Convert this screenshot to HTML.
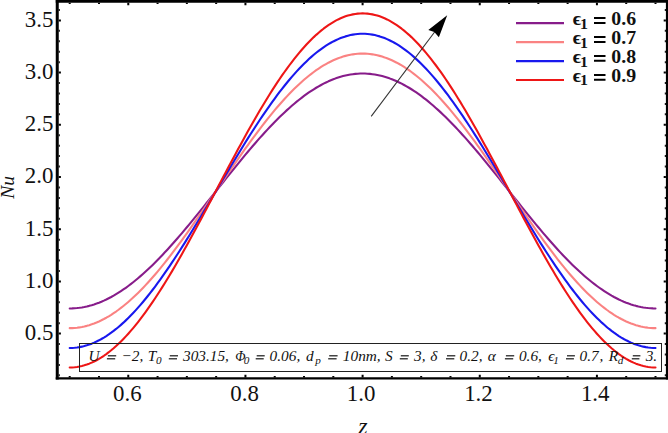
<!DOCTYPE html>
<html><head><meta charset="utf-8"><style>
html,body{margin:0;padding:0;background:#fff;width:668px;height:433px;overflow:hidden}
svg{display:block}
text{font-family:"Liberation Serif",serif;fill:#111;font-kerning:none;white-space:pre}
</style></head><body>
<svg width="668" height="433" viewBox="0 0 668 433">
<path d="M69.70,308.43 L72.14,308.39 L74.58,308.27 L77.02,308.06 L79.46,307.78 L81.90,307.42 L84.35,306.98 L86.79,306.46 L89.23,305.86 L91.67,305.18 L94.11,304.42 L96.55,303.59 L98.99,302.68 L101.43,301.69 L103.87,300.63 L106.31,299.49 L108.75,298.27 L111.19,296.99 L113.63,295.63 L116.08,294.19 L118.52,292.69 L120.96,291.12 L123.40,289.48 L125.84,287.77 L128.28,286.00 L130.72,284.16 L133.16,282.25 L135.60,280.29 L138.04,278.26 L140.48,276.17 L142.93,274.03 L145.37,271.82 L147.81,269.57 L150.25,267.25 L152.69,264.89 L155.13,262.48 L157.57,260.01 L160.01,257.50 L162.45,254.94 L164.89,252.34 L167.33,249.70 L169.77,247.02 L172.22,244.30 L174.66,241.54 L177.10,238.75 L179.54,235.92 L181.98,233.07 L184.42,230.18 L186.86,227.27 L189.30,224.33 L191.74,221.37 L194.18,218.39 L196.62,215.40 L199.06,212.38 L201.50,209.35 L203.95,206.31 L206.39,203.25 L208.83,200.19 L211.27,197.12 L213.71,194.05 L216.15,190.98 L218.59,187.90 L221.03,184.83 L223.47,181.76 L225.91,178.70 L228.35,175.65 L230.80,172.60 L233.24,169.57 L235.68,166.56 L238.12,163.56 L240.56,160.58 L243.00,157.62 L245.44,154.68 L247.88,151.77 L250.32,148.89 L252.76,146.03 L255.20,143.21 L257.64,140.41 L260.08,137.66 L262.53,134.93 L264.97,132.25 L267.41,129.61 L269.85,127.01 L272.29,124.45 L274.73,121.94 L277.17,119.48 L279.61,117.06 L282.05,114.70 L284.49,112.39 L286.93,110.13 L289.38,107.93 L291.82,105.78 L294.26,103.69 L296.70,101.67 L299.14,99.70 L301.58,97.80 L304.02,95.96 L306.46,94.18 L308.90,92.47 L311.34,90.83 L313.78,89.26 L316.22,87.76 L318.67,86.33 L321.11,84.97 L323.55,83.68 L325.99,82.47 L328.43,81.33 L330.87,80.26 L333.31,79.27 L335.75,78.36 L338.19,77.53 L340.63,76.77 L343.07,76.09 L345.51,75.49 L347.95,74.97 L350.40,74.53 L352.84,74.17 L355.28,73.89 L357.72,73.69 L360.16,73.57 L362.60,73.53 L365.04,73.57 L367.48,73.69 L369.92,73.89 L372.36,74.17 L374.80,74.53 L377.24,74.97 L379.69,75.49 L382.13,76.09 L384.57,76.77 L387.01,77.53 L389.45,78.36 L391.89,79.27 L394.33,80.26 L396.77,81.33 L399.21,82.47 L401.65,83.68 L404.09,84.97 L406.53,86.33 L408.98,87.76 L411.42,89.26 L413.86,90.83 L416.30,92.47 L418.74,94.18 L421.18,95.96 L423.62,97.80 L426.06,99.70 L428.50,101.67 L430.94,103.69 L433.38,105.78 L435.82,107.93 L438.27,110.13 L440.71,112.39 L443.15,114.70 L445.59,117.06 L448.03,119.48 L450.47,121.94 L452.91,124.45 L455.35,127.01 L457.79,129.61 L460.23,132.25 L462.67,134.93 L465.12,137.66 L467.56,140.41 L470.00,143.21 L472.44,146.03 L474.88,148.89 L477.32,151.77 L479.76,154.68 L482.20,157.62 L484.64,160.58 L487.08,163.56 L489.52,166.56 L491.96,169.57 L494.41,172.60 L496.85,175.65 L499.29,178.70 L501.73,181.76 L504.17,184.83 L506.61,187.90 L509.05,190.98 L511.49,194.05 L513.93,197.12 L516.37,200.19 L518.81,203.25 L521.25,206.31 L523.69,209.35 L526.14,212.38 L528.58,215.40 L531.02,218.39 L533.46,221.37 L535.90,224.33 L538.34,227.27 L540.78,230.18 L543.22,233.07 L545.66,235.92 L548.10,238.75 L550.54,241.54 L552.98,244.30 L555.43,247.02 L557.87,249.70 L560.31,252.34 L562.75,254.94 L565.19,257.50 L567.63,260.01 L570.07,262.48 L572.51,264.89 L574.95,267.25 L577.39,269.57 L579.83,271.82 L582.27,274.03 L584.72,276.17 L587.16,278.26 L589.60,280.29 L592.04,282.25 L594.48,284.16 L596.92,286.00 L599.36,287.77 L601.80,289.48 L604.24,291.12 L606.68,292.69 L609.12,294.19 L611.57,295.63 L614.01,296.99 L616.45,298.27 L618.89,299.49 L621.33,300.63 L623.77,301.69 L626.21,302.68 L628.65,303.59 L631.09,304.42 L633.53,305.18 L635.97,305.86 L638.41,306.46 L640.86,306.98 L643.30,307.42 L645.74,307.78 L648.18,308.06 L650.62,308.27 L653.06,308.39 L655.50,308.43" fill="none" stroke="#871c8a" stroke-width="2.1" stroke-linecap="round" stroke-linejoin="round"/>
<path d="M69.70,328.16 L72.14,328.11 L74.58,327.97 L77.02,327.73 L79.46,327.41 L81.90,326.98 L84.35,326.47 L86.79,325.86 L89.23,325.16 L91.67,324.36 L94.11,323.48 L96.55,322.50 L98.99,321.44 L101.43,320.28 L103.87,319.04 L106.31,317.71 L108.75,316.29 L111.19,314.78 L113.63,313.19 L116.08,311.52 L118.52,309.77 L120.96,307.93 L123.40,306.01 L125.84,304.01 L128.28,301.94 L130.72,299.79 L133.16,297.56 L135.60,295.27 L138.04,292.90 L140.48,290.46 L142.93,287.95 L145.37,285.37 L147.81,282.73 L150.25,280.03 L152.69,277.27 L155.13,274.45 L157.57,271.57 L160.01,268.63 L162.45,265.64 L164.89,262.60 L167.33,259.52 L169.77,256.38 L172.22,253.20 L174.66,249.98 L177.10,246.71 L179.54,243.41 L181.98,240.07 L184.42,236.70 L186.86,233.30 L189.30,229.86 L191.74,226.40 L194.18,222.92 L196.62,219.42 L199.06,215.89 L201.50,212.35 L203.95,208.79 L206.39,205.22 L208.83,201.64 L211.27,198.06 L213.71,194.47 L216.15,190.87 L218.59,187.28 L221.03,183.69 L223.47,180.10 L225.91,176.52 L228.35,172.95 L230.80,169.40 L233.24,165.85 L235.68,162.33 L238.12,158.82 L240.56,155.34 L243.00,151.88 L245.44,148.45 L247.88,145.04 L250.32,141.67 L252.76,138.33 L255.20,135.03 L257.64,131.77 L260.08,128.55 L262.53,125.36 L264.97,122.23 L267.41,119.14 L269.85,116.10 L272.29,113.11 L274.73,110.18 L277.17,107.30 L279.61,104.48 L282.05,101.71 L284.49,99.01 L286.93,96.37 L289.38,93.80 L291.82,91.29 L294.26,88.85 L296.70,86.48 L299.14,84.18 L301.58,81.96 L304.02,79.81 L306.46,77.73 L308.90,75.73 L311.34,73.82 L313.78,71.98 L316.22,70.22 L318.67,68.55 L321.11,66.96 L323.55,65.45 L325.99,64.04 L328.43,62.70 L330.87,61.46 L333.31,60.31 L335.75,59.24 L338.19,58.26 L340.63,57.38 L343.07,56.59 L345.51,55.88 L347.95,55.28 L350.40,54.76 L352.84,54.34 L355.28,54.01 L357.72,53.77 L360.16,53.63 L362.60,53.59 L365.04,53.63 L367.48,53.77 L369.92,54.01 L372.36,54.34 L374.80,54.76 L377.24,55.28 L379.69,55.88 L382.13,56.59 L384.57,57.38 L387.01,58.26 L389.45,59.24 L391.89,60.31 L394.33,61.46 L396.77,62.70 L399.21,64.04 L401.65,65.45 L404.09,66.96 L406.53,68.55 L408.98,70.22 L411.42,71.98 L413.86,73.82 L416.30,75.73 L418.74,77.73 L421.18,79.81 L423.62,81.96 L426.06,84.18 L428.50,86.48 L430.94,88.85 L433.38,91.29 L435.82,93.80 L438.27,96.37 L440.71,99.01 L443.15,101.71 L445.59,104.48 L448.03,107.30 L450.47,110.18 L452.91,113.11 L455.35,116.10 L457.79,119.14 L460.23,122.23 L462.67,125.36 L465.12,128.55 L467.56,131.77 L470.00,135.03 L472.44,138.33 L474.88,141.67 L477.32,145.04 L479.76,148.45 L482.20,151.88 L484.64,155.34 L487.08,158.82 L489.52,162.33 L491.96,165.85 L494.41,169.40 L496.85,172.95 L499.29,176.52 L501.73,180.10 L504.17,183.69 L506.61,187.28 L509.05,190.87 L511.49,194.47 L513.93,198.06 L516.37,201.64 L518.81,205.22 L521.25,208.79 L523.69,212.35 L526.14,215.89 L528.58,219.42 L531.02,222.92 L533.46,226.40 L535.90,229.86 L538.34,233.30 L540.78,236.70 L543.22,240.07 L545.66,243.41 L548.10,246.71 L550.54,249.98 L552.98,253.20 L555.43,256.38 L557.87,259.52 L560.31,262.60 L562.75,265.64 L565.19,268.63 L567.63,271.57 L570.07,274.45 L572.51,277.27 L574.95,280.03 L577.39,282.73 L579.83,285.37 L582.27,287.95 L584.72,290.46 L587.16,292.90 L589.60,295.27 L592.04,297.56 L594.48,299.79 L596.92,301.94 L599.36,304.01 L601.80,306.01 L604.24,307.93 L606.68,309.77 L609.12,311.52 L611.57,313.19 L614.01,314.78 L616.45,316.29 L618.89,317.71 L621.33,319.04 L623.77,320.28 L626.21,321.44 L628.65,322.50 L631.09,323.48 L633.53,324.36 L635.97,325.16 L638.41,325.86 L640.86,326.47 L643.30,326.98 L645.74,327.41 L648.18,327.73 L650.62,327.97 L653.06,328.11 L655.50,328.16" fill="none" stroke="#fa8282" stroke-width="2.1" stroke-linecap="round" stroke-linejoin="round"/>
<path d="M69.70,347.99 L72.14,347.94 L74.58,347.78 L77.02,347.51 L79.46,347.13 L81.90,346.65 L84.35,346.06 L86.79,345.36 L89.23,344.56 L91.67,343.65 L94.11,342.64 L96.55,341.52 L98.99,340.30 L101.43,338.98 L103.87,337.56 L106.31,336.03 L108.75,334.41 L111.19,332.69 L113.63,330.87 L116.08,328.95 L118.52,326.94 L120.96,324.84 L123.40,322.65 L125.84,320.36 L128.28,317.99 L130.72,315.53 L133.16,312.98 L135.60,310.35 L138.04,307.64 L140.48,304.84 L142.93,301.97 L145.37,299.03 L147.81,296.01 L150.25,292.91 L152.69,289.75 L155.13,286.52 L157.57,283.23 L160.01,279.87 L162.45,276.45 L164.89,272.97 L167.33,269.43 L169.77,265.84 L172.22,262.20 L174.66,258.51 L177.10,254.78 L179.54,251.00 L181.98,247.18 L184.42,243.32 L186.86,239.43 L189.30,235.50 L191.74,231.54 L194.18,227.55 L196.62,223.54 L199.06,219.51 L201.50,215.45 L203.95,211.38 L206.39,207.30 L208.83,203.20 L211.27,199.10 L213.71,194.98 L216.15,190.87 L218.59,186.76 L221.03,182.65 L223.47,178.54 L225.91,174.45 L228.35,170.36 L230.80,166.29 L233.24,162.24 L235.68,158.20 L238.12,154.19 L240.56,150.21 L243.00,146.25 L245.44,142.32 L247.88,138.42 L250.32,134.56 L252.76,130.74 L255.20,126.96 L257.64,123.23 L260.08,119.54 L262.53,115.90 L264.97,112.31 L267.41,108.78 L269.85,105.30 L272.29,101.88 L274.73,98.52 L277.17,95.22 L279.61,91.99 L282.05,88.83 L284.49,85.74 L286.93,82.72 L289.38,79.77 L291.82,76.90 L294.26,74.11 L296.70,71.40 L299.14,68.77 L301.58,66.22 L304.02,63.76 L306.46,61.38 L308.90,59.10 L311.34,56.90 L313.78,54.80 L316.22,52.79 L318.67,50.88 L321.11,49.06 L323.55,47.33 L325.99,45.71 L328.43,44.19 L330.87,42.76 L333.31,41.44 L335.75,40.22 L338.19,39.10 L340.63,38.09 L343.07,37.18 L345.51,36.38 L347.95,35.68 L350.40,35.09 L352.84,34.61 L355.28,34.23 L357.72,33.97 L360.16,33.80 L362.60,33.75 L365.04,33.80 L367.48,33.97 L369.92,34.23 L372.36,34.61 L374.80,35.09 L377.24,35.68 L379.69,36.38 L382.13,37.18 L384.57,38.09 L387.01,39.10 L389.45,40.22 L391.89,41.44 L394.33,42.76 L396.77,44.19 L399.21,45.71 L401.65,47.33 L404.09,49.06 L406.53,50.88 L408.98,52.79 L411.42,54.80 L413.86,56.90 L416.30,59.10 L418.74,61.38 L421.18,63.76 L423.62,66.22 L426.06,68.77 L428.50,71.40 L430.94,74.11 L433.38,76.90 L435.82,79.77 L438.27,82.72 L440.71,85.74 L443.15,88.83 L445.59,91.99 L448.03,95.22 L450.47,98.52 L452.91,101.88 L455.35,105.30 L457.79,108.78 L460.23,112.31 L462.67,115.90 L465.12,119.54 L467.56,123.23 L470.00,126.96 L472.44,130.74 L474.88,134.56 L477.32,138.42 L479.76,142.32 L482.20,146.25 L484.64,150.21 L487.08,154.19 L489.52,158.20 L491.96,162.24 L494.41,166.29 L496.85,170.36 L499.29,174.45 L501.73,178.54 L504.17,182.65 L506.61,186.76 L509.05,190.87 L511.49,194.98 L513.93,199.10 L516.37,203.20 L518.81,207.30 L521.25,211.38 L523.69,215.45 L526.14,219.51 L528.58,223.54 L531.02,227.55 L533.46,231.54 L535.90,235.50 L538.34,239.43 L540.78,243.32 L543.22,247.18 L545.66,251.00 L548.10,254.78 L550.54,258.51 L552.98,262.20 L555.43,265.84 L557.87,269.43 L560.31,272.97 L562.75,276.45 L565.19,279.87 L567.63,283.23 L570.07,286.52 L572.51,289.75 L574.95,292.91 L577.39,296.01 L579.83,299.03 L582.27,301.97 L584.72,304.84 L587.16,307.64 L589.60,310.35 L592.04,312.98 L594.48,315.53 L596.92,317.99 L599.36,320.36 L601.80,322.65 L604.24,324.84 L606.68,326.94 L609.12,328.95 L611.57,330.87 L614.01,332.69 L616.45,334.41 L618.89,336.03 L621.33,337.56 L623.77,338.98 L626.21,340.30 L628.65,341.52 L631.09,342.64 L633.53,343.65 L635.97,344.56 L638.41,345.36 L640.86,346.06 L643.30,346.65 L645.74,347.13 L648.18,347.51 L650.62,347.78 L653.06,347.94 L655.50,347.99" fill="none" stroke="#1818ee" stroke-width="2.1" stroke-linecap="round" stroke-linejoin="round"/>
<path d="M69.70,367.52 L72.14,367.46 L74.58,367.27 L77.02,366.97 L79.46,366.55 L81.90,366.00 L84.35,365.34 L86.79,364.55 L89.23,363.65 L91.67,362.62 L94.11,361.48 L96.55,360.23 L98.99,358.85 L101.43,357.36 L103.87,355.76 L106.31,354.04 L108.75,352.21 L111.19,350.27 L113.63,348.22 L116.08,346.06 L118.52,343.79 L120.96,341.42 L123.40,338.95 L125.84,336.38 L128.28,333.70 L130.72,330.93 L133.16,328.06 L135.60,325.09 L138.04,322.04 L140.48,318.89 L142.93,315.66 L145.37,312.34 L147.81,308.93 L150.25,305.45 L152.69,301.88 L155.13,298.24 L157.57,294.53 L160.01,290.74 L162.45,286.89 L164.89,282.97 L167.33,278.99 L169.77,274.94 L172.22,270.84 L174.66,266.68 L177.10,262.47 L179.54,258.21 L181.98,253.91 L184.42,249.56 L186.86,245.17 L189.30,240.74 L191.74,236.28 L194.18,231.79 L196.62,227.27 L199.06,222.72 L201.50,218.15 L203.95,213.57 L206.39,208.96 L208.83,204.35 L211.27,199.72 L213.71,195.09 L216.15,190.45 L218.59,185.82 L221.03,181.19 L223.47,176.56 L225.91,171.95 L228.35,167.34 L230.80,162.76 L233.24,158.19 L235.68,153.64 L238.12,149.12 L240.56,144.63 L243.00,140.17 L245.44,135.74 L247.88,131.35 L250.32,127.00 L252.76,122.70 L255.20,118.44 L257.64,114.23 L260.08,110.07 L262.53,105.97 L264.97,101.92 L267.41,97.94 L269.85,94.02 L272.29,90.17 L274.73,86.38 L277.17,82.67 L279.61,79.03 L282.05,75.46 L284.49,71.98 L286.93,68.57 L289.38,65.25 L291.82,62.02 L294.26,58.87 L296.70,55.82 L299.14,52.85 L301.58,49.98 L304.02,47.21 L306.46,44.53 L308.90,41.96 L311.34,39.48 L313.78,37.11 L316.22,34.85 L318.67,32.69 L321.11,30.64 L323.55,28.70 L325.99,26.87 L328.43,25.15 L330.87,23.55 L333.31,22.06 L335.75,20.68 L338.19,19.43 L340.63,18.28 L343.07,17.26 L345.51,16.36 L347.95,15.57 L350.40,14.91 L352.84,14.36 L355.28,13.94 L357.72,13.63 L360.16,13.45 L362.60,13.39 L365.04,13.45 L367.48,13.63 L369.92,13.94 L372.36,14.36 L374.80,14.91 L377.24,15.57 L379.69,16.36 L382.13,17.26 L384.57,18.28 L387.01,19.43 L389.45,20.68 L391.89,22.06 L394.33,23.55 L396.77,25.15 L399.21,26.87 L401.65,28.70 L404.09,30.64 L406.53,32.69 L408.98,34.85 L411.42,37.11 L413.86,39.48 L416.30,41.96 L418.74,44.53 L421.18,47.21 L423.62,49.98 L426.06,52.85 L428.50,55.82 L430.94,58.87 L433.38,62.02 L435.82,65.25 L438.27,68.57 L440.71,71.98 L443.15,75.46 L445.59,79.03 L448.03,82.67 L450.47,86.38 L452.91,90.17 L455.35,94.02 L457.79,97.94 L460.23,101.92 L462.67,105.97 L465.12,110.07 L467.56,114.23 L470.00,118.44 L472.44,122.70 L474.88,127.00 L477.32,131.35 L479.76,135.74 L482.20,140.17 L484.64,144.63 L487.08,149.12 L489.52,153.64 L491.96,158.19 L494.41,162.76 L496.85,167.34 L499.29,171.95 L501.73,176.56 L504.17,181.19 L506.61,185.82 L509.05,190.45 L511.49,195.09 L513.93,199.72 L516.37,204.35 L518.81,208.96 L521.25,213.57 L523.69,218.15 L526.14,222.72 L528.58,227.27 L531.02,231.79 L533.46,236.28 L535.90,240.74 L538.34,245.17 L540.78,249.56 L543.22,253.91 L545.66,258.21 L548.10,262.47 L550.54,266.68 L552.98,270.84 L555.43,274.94 L557.87,278.99 L560.31,282.97 L562.75,286.89 L565.19,290.74 L567.63,294.53 L570.07,298.24 L572.51,301.88 L574.95,305.45 L577.39,308.93 L579.83,312.34 L582.27,315.66 L584.72,318.89 L587.16,322.04 L589.60,325.09 L592.04,328.06 L594.48,330.93 L596.92,333.70 L599.36,336.38 L601.80,338.95 L604.24,341.42 L606.68,343.79 L609.12,346.06 L611.57,348.22 L614.01,350.27 L616.45,352.21 L618.89,354.04 L621.33,355.76 L623.77,357.36 L626.21,358.85 L628.65,360.23 L631.09,361.48 L633.53,362.62 L635.97,363.65 L638.41,364.55 L640.86,365.34 L643.30,366.00 L645.74,366.55 L648.18,366.97 L650.62,367.27 L653.06,367.46 L655.50,367.52" fill="none" stroke="#ee1616" stroke-width="2.1" stroke-linecap="round" stroke-linejoin="round"/>
<rect x="79.5" y="343.5" width="582" height="28" fill="none" stroke="#222" stroke-width="1"/>
<text x="88.40" y="360.80" style="font-size:15.3px;font-style:italic;">U</text>
<text x="121.46" y="360.80" style="font-size:15.3px;font-style:italic;">−</text>
<text x="131.79" y="360.80" style="font-size:15.3px;font-style:italic;">2,</text>
<text x="147.70" y="360.80" style="font-size:15.3px;font-style:italic;">T</text>
<text x="183.02" y="360.80" style="font-size:15.3px;font-style:italic;">303.15,</text>
<text transform="matrix(0.88,0,0,1,235.24,0)" x="0" y="360.80" style="font-size:15.3px;font-style:italic;">Φ</text>
<text x="269.61" y="360.80" style="font-size:15.3px;font-style:italic;">0.06,</text>
<text x="306.04" y="360.80" style="font-size:15.3px;font-style:italic;">d</text>
<text x="342.85" y="360.80" style="font-size:15.3px;font-style:italic;">10nm,</text>
<text x="385.02" y="360.80" style="font-size:15.3px;font-style:italic;">S</text>
<text x="414.02" y="360.80" style="font-size:15.3px;font-style:italic;">3,</text>
<text x="430.15" y="360.80" style="font-size:15.3px;font-style:italic;">δ</text>
<text x="459.61" y="360.80" style="font-size:15.3px;font-style:italic;">0.2,</text>
<text x="487.84" y="360.80" style="font-size:15.3px;font-style:italic;">α</text>
<text x="518.91" y="360.80" style="font-size:15.3px;font-style:italic;">0.6,</text>
<text x="548.24" y="360.80" style="font-size:15.3px;font-style:italic;">ϵ</text>
<text x="579.61" y="360.80" style="font-size:15.3px;font-style:italic;">0.7</text>
<text x="599.59" y="360.80" style="font-size:15.3px;font-style:italic;">,</text>
<text x="608.78" y="360.80" style="font-size:15.3px;font-style:italic;">R</text>
<text x="645.72" y="360.80" style="font-size:15.3px;font-style:italic;">3.</text>
<text x="156.07" y="363.80" style="font-size:11.2px;font-style:italic;">0</text>
<text x="243.67" y="363.80" style="font-size:11.2px;font-style:italic;">0</text>
<text x="315.36" y="363.80" style="font-size:11.2px;font-style:italic;">p</text>
<text x="553.20" y="363.80" style="font-size:11.2px;font-style:italic;">1</text>
<text x="617.66" y="363.80" style="font-size:11.2px;font-style:italic;">d</text>
<path d="M107.90,355.85 h8.30 M106.90,358.80 h8.30 M169.80,355.85 h8.20 M168.80,358.80 h8.20 M256.70,355.85 h8.00 M255.70,358.80 h8.00 M329.20,355.85 h8.40 M328.20,358.80 h8.40 M400.80,355.85 h8.00 M399.80,358.80 h8.00 M447.00,355.85 h8.30 M446.00,358.80 h8.30 M505.90,355.85 h8.30 M504.90,358.80 h8.30 M567.00,355.85 h7.90 M566.00,358.80 h7.90 M632.80,355.85 h7.60 M631.80,358.80 h7.60" stroke="#444" stroke-width="1.5" fill="none"/>
<line x1="371.2" y1="116.3" x2="435" y2="31.5" stroke="#333" stroke-width="1.1"/>
<path d="M447.2,15.2 L428.3,29.9 L434.3,32.0 L438.9,37.3 Z" fill="#000"/>
<path d="M57.25,0 V379.4" fill="none" stroke="#000" stroke-width="3"/>
<path d="M55.75,378.35 H668" fill="none" stroke="#000" stroke-width="2.1"/>
<path d="M55.75,1.4 H668" fill="none" stroke="#000" stroke-width="2.8"/>
<path d="M667,0 V379.4" fill="none" stroke="#000" stroke-width="2.2"/>
<path d="M69.70,377.4 v-1.3 M69.70,2.7 v1.3 M98.99,377.4 v-1.3 M98.99,2.7 v1.3 M128.28,377.4 v-2.6 M128.28,2.7 v2.6 M157.57,377.4 v-1.3 M157.57,2.7 v1.3 M186.86,377.4 v-1.3 M186.86,2.7 v1.3 M216.15,377.4 v-1.3 M216.15,2.7 v1.3 M245.44,377.4 v-2.6 M245.44,2.7 v2.6 M274.73,377.4 v-1.3 M274.73,2.7 v1.3 M304.02,377.4 v-1.3 M304.02,2.7 v1.3 M333.31,377.4 v-1.3 M333.31,2.7 v1.3 M362.60,377.4 v-2.6 M362.60,2.7 v2.6 M391.89,377.4 v-1.3 M391.89,2.7 v1.3 M421.18,377.4 v-1.3 M421.18,2.7 v1.3 M450.47,377.4 v-1.3 M450.47,2.7 v1.3 M479.76,377.4 v-2.6 M479.76,2.7 v2.6 M509.05,377.4 v-1.3 M509.05,2.7 v1.3 M538.34,377.4 v-1.3 M538.34,2.7 v1.3 M567.63,377.4 v-1.3 M567.63,2.7 v1.3 M596.92,377.4 v-2.6 M596.92,2.7 v2.6 M626.21,377.4 v-1.3 M626.21,2.7 v1.3 M655.50,377.4 v-1.3 M655.50,2.7 v1.3 M58.7,375.36 h1.1 M665.9,375.36 h-1.1 M58.7,364.92 h1.1 M665.9,364.92 h-1.1 M58.7,354.48 h1.1 M665.9,354.48 h-1.1 M58.7,344.04 h1.1 M665.9,344.04 h-1.1 M58.7,333.60 h2.2 M665.9,333.60 h-2.2 M58.7,323.16 h1.1 M665.9,323.16 h-1.1 M58.7,312.72 h1.1 M665.9,312.72 h-1.1 M58.7,302.28 h1.1 M665.9,302.28 h-1.1 M58.7,291.84 h1.1 M665.9,291.84 h-1.1 M58.7,281.40 h2.2 M665.9,281.40 h-2.2 M58.7,270.96 h1.1 M665.9,270.96 h-1.1 M58.7,260.52 h1.1 M665.9,260.52 h-1.1 M58.7,250.08 h1.1 M665.9,250.08 h-1.1 M58.7,239.64 h1.1 M665.9,239.64 h-1.1 M58.7,229.20 h2.2 M665.9,229.20 h-2.2 M58.7,218.76 h1.1 M665.9,218.76 h-1.1 M58.7,208.32 h1.1 M665.9,208.32 h-1.1 M58.7,197.88 h1.1 M665.9,197.88 h-1.1 M58.7,187.44 h1.1 M665.9,187.44 h-1.1 M58.7,177.00 h2.2 M665.9,177.00 h-2.2 M58.7,166.56 h1.1 M665.9,166.56 h-1.1 M58.7,156.12 h1.1 M665.9,156.12 h-1.1 M58.7,145.68 h1.1 M665.9,145.68 h-1.1 M58.7,135.24 h1.1 M665.9,135.24 h-1.1 M58.7,124.80 h2.2 M665.9,124.80 h-2.2 M58.7,114.36 h1.1 M665.9,114.36 h-1.1 M58.7,103.92 h1.1 M665.9,103.92 h-1.1 M58.7,93.48 h1.1 M665.9,93.48 h-1.1 M58.7,83.04 h1.1 M665.9,83.04 h-1.1 M58.7,72.60 h2.2 M665.9,72.60 h-2.2 M58.7,62.16 h1.1 M665.9,62.16 h-1.1 M58.7,51.72 h1.1 M665.9,51.72 h-1.1 M58.7,41.28 h1.1 M665.9,41.28 h-1.1 M58.7,30.84 h1.1 M665.9,30.84 h-1.1 M58.7,20.40 h2.2 M665.9,20.40 h-2.2 M58.7,9.96 h1.1 M665.9,9.96 h-1.1" stroke="#000" stroke-width="2" fill="none"/>
<text x="24.87" y="340.05" style="font-size:22.9px;">0.5</text>
<text x="24.85" y="287.85" style="font-size:22.9px;">1.0</text>
<text x="24.87" y="235.65" style="font-size:22.9px;">1.5</text>
<text x="24.85" y="183.45" style="font-size:22.9px;">2.0</text>
<text x="24.87" y="131.25" style="font-size:22.9px;">2.5</text>
<text x="24.85" y="79.05" style="font-size:22.9px;">3.0</text>
<text x="24.87" y="26.85" style="font-size:22.9px;">3.5</text>
<text x="112.97" y="400.60" style="font-size:22.9px;">0.6</text>
<text x="230.23" y="400.60" style="font-size:22.9px;">0.8</text>
<text x="346.82" y="400.60" style="font-size:22.9px;">1.0</text>
<text x="464.17" y="400.60" style="font-size:22.9px;">1.2</text>
<text x="580.88" y="400.60" style="font-size:22.9px;">1.4</text>
<text x="358.32" y="433.90" style="font-size:24px;font-style:italic;">z</text>
<text transform="translate(13.7,187.8) rotate(-90)" x="-11.01" y="0" style="font-size:19.6px;font-style:italic">Nu</text>
<line x1="516" y1="23.2" x2="564" y2="23.2" stroke="#871c8a" stroke-width="2.2"/>
<text transform="matrix(1.06,0,0,1,572.74,0)" x="0" y="24.80" style="font-size:18.75px;font-weight:bold;">ϵ</text>
<text transform="matrix(1.06,0,0,1,579.93,0)" x="0" y="28.70" style="font-size:15px;font-weight:bold;">1</text>
<path d="M594,18.10 h11.5 M594,22.90 h11.5" stroke="#000" stroke-width="2" fill="none"/>
<text transform="matrix(1.06,0,0,1,611.34,0)" x="0" y="24.80" style="font-size:18.75px;font-weight:bold;">0.6</text>
<line x1="516" y1="42.2" x2="564" y2="42.2" stroke="#fa8282" stroke-width="2.2"/>
<text transform="matrix(1.06,0,0,1,572.74,0)" x="0" y="43.80" style="font-size:18.75px;font-weight:bold;">ϵ</text>
<text transform="matrix(1.06,0,0,1,579.93,0)" x="0" y="47.70" style="font-size:15px;font-weight:bold;">1</text>
<path d="M594,37.10 h11.5 M594,41.90 h11.5" stroke="#000" stroke-width="2" fill="none"/>
<text transform="matrix(1.06,0,0,1,611.34,0)" x="0" y="43.80" style="font-size:18.75px;font-weight:bold;">0.7</text>
<line x1="516" y1="61.1" x2="564" y2="61.1" stroke="#1818ee" stroke-width="2.2"/>
<text transform="matrix(1.06,0,0,1,572.74,0)" x="0" y="62.70" style="font-size:18.75px;font-weight:bold;">ϵ</text>
<text transform="matrix(1.06,0,0,1,579.93,0)" x="0" y="66.60" style="font-size:15px;font-weight:bold;">1</text>
<path d="M594,56.00 h11.5 M594,60.80 h11.5" stroke="#000" stroke-width="2" fill="none"/>
<text transform="matrix(1.06,0,0,1,611.34,0)" x="0" y="62.70" style="font-size:18.75px;font-weight:bold;">0.8</text>
<line x1="516" y1="80.0" x2="564" y2="80.0" stroke="#ee1616" stroke-width="2.2"/>
<text transform="matrix(1.06,0,0,1,572.74,0)" x="0" y="81.60" style="font-size:18.75px;font-weight:bold;">ϵ</text>
<text transform="matrix(1.06,0,0,1,579.93,0)" x="0" y="85.50" style="font-size:15px;font-weight:bold;">1</text>
<path d="M594,74.90 h11.5 M594,79.70 h11.5" stroke="#000" stroke-width="2" fill="none"/>
<text transform="matrix(1.06,0,0,1,611.34,0)" x="0" y="81.60" style="font-size:18.75px;font-weight:bold;">0.9</text>
</svg>
</body></html>
